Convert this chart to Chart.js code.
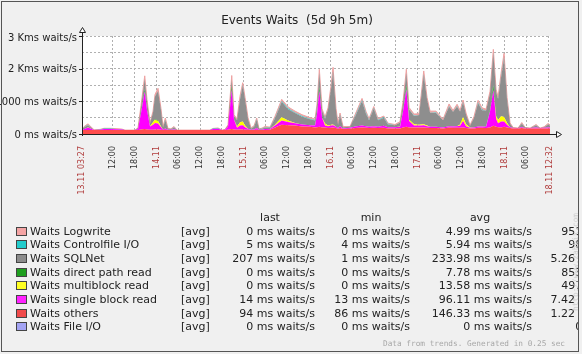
<!DOCTYPE html>
<html>
<head>
<meta charset="utf-8">
<script src="https://cdn.jsdelivr.net/npm/chart.js@4.4.1/dist/chart.umd.min.js"></script>
<style>
  body { margin: 0; background: #f0f0f0; }
  #wrap { position: relative; width: 582px; height: 354px; overflow: hidden; font-family: 'DejaVu Sans', sans-serif; color: #222; }
  #c { position: absolute; left: 0; top: 0; }
  #title { position: absolute; left: 0; width: 594px; top: 13px; font-size: 12px; line-height: 14px; text-align: center; white-space: pre; }
  #legend { position: absolute; left: 0; top: 0; width: 578px; height: 354px; overflow: hidden; font-size: 11px; }
  #legend div { position: absolute; line-height: 13px; white-space: pre; }
  #legend .sw { width: 9px; height: 7px; border: 1px solid #444; }
  #footer { position: absolute; left: 383px; top: 339px; font-family: 'DejaVu Sans Mono', monospace; font-size: 7.75px; line-height: 10px; color: #a8a8a8; white-space: pre; }
  #url { position: absolute; left: 571px; top: 311px; transform-origin: 0 0; transform: rotate(-90deg); font-family: 'DejaVu Sans Mono', monospace; font-size: 7.75px; line-height: 9px; color: #cfcfcf; white-space: pre; }
  #frame { position: absolute; left: 1px; top: 1px; width: 578px; height: 351px; border: 1px solid #555; box-sizing: border-box; pointer-events: none; }
</style>
</head>
<body>
<div id="wrap">
  <canvas id="c" width="582" height="354"></canvas>
  <div id="title">Events Waits  (5d 9h 5m)</div>
  <div id="legend"></div>
  <div id="footer">Data from trends. Generated in 0.25 sec</div>
  <div id="url">http://www.zabbix.com</div>
  <div id="frame"></div>
</div>
<script>
// hours since 13.11 03:27 (period 5d 9h 5m)
const hours = [0, 0.83, 1.66, 2.48, 3.31, 4.97, 6.07, 7.72, 9.38, 11.03,
  11.86, 14.62, 15.45, 16.28, 17.30, 17.93, 18.76, 19.59, 20.14, 20.97,
  21.79, 22.34, 22.98, 23.72, 24.55, 25.38, 26.21, 32.0, 35.31, 36.14,
  37.52, 38.62, 39.45, 40.28, 41.30, 41.93, 42.76, 43.59, 44.33, 44.97,
  45.79, 46.62, 47.45, 48.19, 48.83, 49.66, 50.48, 51.86, 53.24, 55.09,
  56.83, 58.76, 60.69, 62.90, 64.28, 64.83, 65.46, 66.21, 67.03, 67.86,
  68.69, 69.24, 70.07, 70.62, 71.17, 72.0, 73.93, 75.31, 77.24, 78.34,
  79.17, 80.47, 81.66, 83.23, 84.41, 86.34, 87.72, 88.55, 89.46, 90.21,
  91.59, 92.97, 93.52, 94.26, 95.17, 96.0, 97.66, 99.59, 101.24, 102.34,
  103.45, 104.28, 105.10, 105.93, 107.03, 108.14, 109.24, 110.34, 111.45, 112.55,
  113.46, 114.21, 114.76, 115.59, 116.41, 117.24, 118.07, 118.90, 120.28, 121.30,
  122.21, 123.59, 125.24, 126.34, 127.45, 128.55, 129.08];

// ms waits/s, stacked bottom to top
const others = [120, 120, 120, 120, 120, 120, 120, 120, 120, 120,
  120, 120, 120, 140, 150, 140, 130, 130, 140, 140,
  130, 120, 130, 120, 120, 120, 120, 120, 120, 120,
  120, 120, 120, 130, 150, 140, 130, 140, 140, 130,
  130, 120, 120, 130, 120, 120, 120, 130, 200, 280,
  270, 260, 230, 220, 200, 210, 220, 200, 200, 180,
  190, 200, 180, 150, 180, 150, 160, 180, 200, 190,
  180, 190, 180, 190, 170, 170, 170, 200, 220, 200,
  200, 200, 200, 200, 190, 180, 180, 170, 200, 190,
  190, 190, 200, 180, 170, 170, 190, 190, 180, 200,
  250, 220, 210, 200, 220, 200, 180, 170, 170, 180,
  170, 170, 170, 170, 170, 170, 170];
const singleBlock = [10, 40, 80, 40, 5, 10, 30, 30, 25, 20,
  0, 0, 30, 500, 1150, 600, 100, 150, 200, 180,
  80, 20, 40, 10, 10, 20, 0, 0, 0, 30,
  40, 0, 10, 100, 1200, 300, 60, 120, 130, 80,
  30, 10, 20, 50, 10, 10, 30, 20, 60, 130,
  100, 70, 60, 50, 60, 400, 1100, 300, 60, 60,
  70, 70, 40, 30, 60, 20, 30, 50, 60, 50,
  40, 50, 40, 60, 40, 40, 50, 500, 1150, 200,
  60, 60, 60, 70, 50, 40, 40, 30, 40, 40,
  50, 60, 200, 60, 20, 30, 40, 40, 40, 500,
  1100, 250, 120, 180, 160, 80, 30, 10, 10, 30,
  10, 10, 30, 10, 20, 30, 30];
const multiblock = [0, 0, 10, 0, 0, 0, 0, 0, 0, 0,
  0, 0, 0, 0, 0, 0, 10, 80, 100, 80,
  20, 0, 0, 0, 0, 0, 0, 0, 0, 0,
  0, 0, 0, 0, 0, 0, 40, 100, 110, 50,
  0, 0, 0, 0, 0, 0, 0, 0, 20, 100,
  40, 10, 0, 0, 0, 0, 0, 0, 60, 20,
  20, 20, 0, 0, 0, 0, 0, 0, 0, 0,
  0, 0, 0, 0, 0, 0, 10, 0, 0, 40,
  40, 20, 30, 30, 20, 0, 0, 0, 0, 0,
  0, 40, 120, 60, 10, 0, 0, 0, 0, 0,
  0, 80, 100, 160, 140, 60, 0, 0, 0, 0,
  0, 0, 0, 0, 0, 0, 0];
const directPath = [0, 0, 0, 0, 0, 0, 0, 0, 0, 0,
  0, 0, 0, 30, 80, 50, 0, 0, 10, 20,
  0, 0, 0, 0, 0, 0, 0, 0, 0, 0,
  0, 0, 0, 10, 120, 30, 0, 0, 0, 0,
  0, 0, 0, 0, 0, 0, 0, 0, 0, 0,
  0, 0, 0, 0, 0, 40, 120, 30, 0, 0,
  0, 0, 0, 0, 0, 0, 0, 0, 0, 0,
  0, 0, 0, 0, 0, 0, 0, 40, 120, 20,
  0, 0, 0, 0, 0, 0, 0, 0, 0, 0,
  0, 0, 0, 0, 0, 0, 0, 0, 0, 50,
  140, 40, 0, 0, 0, 0, 0, 0, 0, 0,
  0, 0, 0, 0, 0, 0, 0];
const sqlNet = [20, 60, 60, 40, 0, 0, 0, 0, 0, 0,
  0, 0, 30, 150, 300, 200, 80, 300, 700, 900,
  500, 60, 250, 30, 20, 60, 0, 0, 0, 0,
  0, 0, 10, 20, 200, 80, 200, 700, 1100, 800,
  300, 40, 80, 250, 30, 30, 50, 40, 200, 480,
  350, 300, 240, 180, 150, 200, 400, 200, 150, 500,
  1100, 1600, 500, 100, 330, 40, 30, 300, 750, 380,
  200, 540, 200, 250, 80, 60, 120, 200, 360, 300,
  250, 300, 800, 1500, 800, 440, 420, 220, 600, 450,
  600, 400, 450, 300, 50, 300, 720, 500, 500, 500,
  960, 700, 650, 1200, 1800, 700, 100, 10, 0, 100,
  20, 0, 60, 0, 20, 80, 60];
const controlfile = [0, 10, 10, 0, 0, 10, 15, 15, 10, 5,
  0, 0, 0, 0, 0, 0, 0, 0, 0, 0,
  0, 0, 20, 0, 0, 10, 0, 0, 0, 20,
  15, 0, 0, 0, 0, 0, 0, 20, 20, 0,
  0, 0, 10, 20, 0, 10, 10, 20, 20, 20,
  30, 20, 20, 20, 20, 20, 30, 0, 20, 0,
  20, 30, 0, 0, 20, 0, 0, 20, 30, 30,
  20, 20, 20, 20, 20, 0, 0, 0, 20, 0,
  20, 0, 20, 30, 0, 0, 20, 0, 20, 0,
  20, 0, 20, 0, 0, 0, 20, 20, 0, 0,
  30, 0, 0, 30, 30, 20, 0, 0, 0, 10,
  0, 0, 10, 0, 0, 10, 0];
const logwrite = [10, 20, 30, 20, 5, 0, 10, 10, 10, 5,
  0, 0, 10, 50, 100, 60, 20, 40, 60, 80,
  50, 20, 50, 10, 10, 20, 0, 0, 0, 0,
  10, 0, 0, 20, 120, 40, 30, 80, 70, 60,
  40, 20, 20, 40, 0, 10, 20, 0, 40, 50,
  40, 40, 40, 30, 30, 50, 110, 40, 30, 40,
  80, 120, 60, 30, 50, 20, 10, 40, 50, 40,
  30, 40, 30, 30, 20, 20, 30, 50, 110, 50,
  40, 40, 60, 100, 60, 40, 40, 30, 60, 40,
  50, 40, 50, 40, 20, 40, 60, 50, 40, 60,
  110, 80, 60, 90, 120, 60, 30, 10, 0, 30,
  0, 0, 20, 0, 10, 30, 20];

const totalHours = 129.083;
const gridHours = [8.55, 14.55, 20.55, 26.55, 32.55, 38.55, 44.55, 50.55, 56.55, 62.55, 68.55,
  74.55, 80.55, 86.55, 92.55, 98.55, 104.55, 110.55, 116.55, 122.55, 128.55];
const xLabelHours = [0, 8.55, 14.55, 20.55, 26.55, 32.55, 38.55, 44.55, 50.55, 56.55, 62.55, 68.55,
  74.55, 80.55, 86.55, 92.55, 98.55, 104.55, 110.55, 116.55, 122.55, 129.083];
const xLabels = ['13.11 03:27', '12:00', '18:00', '14.11', '06:00', '12:00', '18:00', '15.11', '06:00',
  '12:00', '18:00', '16.11', '06:00', '12:00', '18:00', '17.11', '06:00', '12:00', '18:00', '18.11',
  '06:00', '18.11 12:32'];
const yLabelValues = [0, 1000, 2000, 3000];
const yLabels = ['0 ms waits/s', '1000 ms waits/s', '2 Kms waits/s', '3 Kms waits/s'];

const legendNames = ['Waits Logwrite', 'Waits Controlfile I/O', 'Waits SQLNet', 'Waits direct path read',
  'Waits multiblock read', 'Waits single block read', 'Waits others', 'Waits File I/O'];
const legendColors = ['#f4a4a4', '#22cccc', '#8c8c8c', '#1f9f1f', '#ffff22', '#ff22ff', '#f04a4a', '#a4a4f4'];
const lastVals = ['0 ms waits/s', '5 ms waits/s', '207 ms waits/s', '0 ms waits/s', '0 ms waits/s',
  '14 ms waits/s', '94 ms waits/s', '0 ms waits/s'];
const minVals = ['0 ms waits/s', '4 ms waits/s', '1 ms waits/s', '0 ms waits/s', '0 ms waits/s',
  '13 ms waits/s', '86 ms waits/s', '0 ms waits/s'];
const avgVals = ['4.99 ms waits/s', '5.94 ms waits/s', '233.98 ms waits/s', '7.78 ms waits/s',
  '13.58 ms waits/s', '96.11 ms waits/s', '146.33 ms waits/s', '0 ms waits/s'];
const maxVals = ['951 ms waits/s', '98 ms waits/s', '5.26 Kms waits/s', '853 ms waits/s',
  '497 ms waits/s', '7.42 Kms waits/s', '1.22 Kms waits/s', '0 ms waits/s'];

// legend table
const legendEl = document.getElementById('legend');
function addText(txt, x, yc, align) {
  const d = document.createElement('div');
  d.textContent = txt;
  d.style.top = (yc - 6.5) + 'px';
  if (align === 'right') d.style.right = (578 - x) + 'px';
  else if (align === 'center') { d.style.left = (x - 50) + 'px'; d.style.width = '100px'; d.style.textAlign = 'center'; }
  else d.style.left = x + 'px';
  legendEl.appendChild(d);
}
addText('last', 270, 217, 'center');
addText('min', 371, 217, 'center');
addText('avg', 480, 217, 'center');
legendNames.forEach((name, i) => {
  const yc = 231 + i * 13.67;
  const sw = document.createElement('div');
  sw.className = 'sw';
  sw.style.left = '16px';
  sw.style.top = (yc - 4.5) + 'px';
  sw.style.background = legendColors[i];
  legendEl.appendChild(sw);
  addText(name, 30, yc);
  addText('[avg]', 181, yc);
  addText(lastVals[i], 315, yc, 'right');
  addText(minVals[i], 410, yc, 'right');
  addText(avgVals[i], 532, yc, 'right');
  addText(maxVals[i], 644, yc, 'right');
});

const pts = (arr) => arr.map((v, i) => ({ x: hours[i], y: v }));
const layer = (label, arr, color, extra) => Object.assign({
  label, data: pts(arr), backgroundColor: color, borderColor: color, borderWidth: 0,
  fill: '-1', pointRadius: 0, tension: 0
}, extra || {});

const zbxPlugin = {
  id: 'zbx',
  beforeDraw(chart) {
    const { ctx, chartArea: a } = chart;
    ctx.save();
    ctx.fillStyle = '#ffffff';
    ctx.fillRect(a.left, a.top, a.right - a.left, a.bottom - a.top);
    ctx.restore();
  },
  afterDraw(chart) {
    const { ctx, chartArea: a, scales: { x, y } } = chart;
    ctx.save();
    // y labels
    ctx.font = '10px "DejaVu Sans"';
    ctx.fillStyle = '#222';
    ctx.textAlign = 'right';
    ctx.textBaseline = 'middle';
    yLabelValues.forEach((v, i) => {
      const py = y.getPixelForValue(v);
      ctx.fillText(yLabels[i], a.left - 5, py + (v === 3000 ? 2 : 1));
      ctx.fillRect(a.left - 3, Math.round(py), 3, 1);
    });
    // x labels
    ctx.font = '8px "DejaVu Sans"';
    xLabelHours.forEach((h, i) => {
      const px = x.getPixelForValue(h);
      ctx.save();
      ctx.translate(px, a.bottom + 12);
      ctx.rotate(-Math.PI / 2);
      ctx.textAlign = 'right';
      ctx.textBaseline = 'middle';
      ctx.fillStyle = xLabels[i].includes('.') ? '#b03c3c' : '#333';
      ctx.fillText(xLabels[i], 0, 0);
      ctx.restore();
    });
    // axes with arrows
    ctx.strokeStyle = '#222';
    ctx.lineWidth = 1;
    ctx.beginPath();
    ctx.moveTo(a.left + 0.5, a.bottom + 2);
    ctx.lineTo(a.left + 0.5, a.top - 4);
    ctx.moveTo(a.left - 2, a.bottom + 0.5);
    ctx.lineTo(a.right + 6, a.bottom + 0.5);
    ctx.stroke();
    ctx.fillStyle = '#ffffff';
    ctx.beginPath();
    ctx.moveTo(a.left + 0.5, a.top - 8.5);
    ctx.lineTo(a.left - 2.5, a.top - 3.5);
    ctx.lineTo(a.left + 3.5, a.top - 3.5);
    ctx.closePath();
    ctx.fill(); ctx.stroke();
    ctx.beginPath();
    ctx.moveTo(a.right + 11.5, a.bottom + 0.5);
    ctx.lineTo(a.right + 6.5, a.bottom - 2.5);
    ctx.lineTo(a.right + 6.5, a.bottom + 3.5);
    ctx.closePath();
    ctx.fill(); ctx.stroke();
    ctx.restore();
  }
};

new Chart(document.getElementById('c'), {
  type: 'line',
  data: {
    datasets: [
      layer('Waits others', others, '#ff4c4c', { fill: 'origin' }),
      layer('Waits single block read', singleBlock, '#ff00ff'),
      layer('Waits multiblock read', multiblock, '#ffff00'),
      layer('Waits direct path read', directPath, '#1f9f1f'),
      layer('Waits SQLNet', sqlNet, '#8e8e8e'),
      layer('Waits Controlfile I/O', controlfile, '#22c8c8'),
      layer('Waits Logwrite', logwrite, '#eea2a2', { borderWidth: 1 })
    ]
  },
  options: {
    responsive: false,
    animation: false,
    devicePixelRatio: 1,
    layout: { padding: { left: 82, top: 36, right: 32, bottom: 220 } },
    plugins: { legend: { display: false }, tooltip: { enabled: false } },
    scales: {
      x: {
        type: 'linear', min: 0, max: totalHours,
        afterBuildTicks: (s) => { s.ticks = gridHours.map((v) => ({ value: v })); },
        ticks: { display: false },
        grid: { color: '#b0b0b0', drawTicks: false },
        border: { display: false, dash: [2, 2] }
      },
      y: {
        stacked: true, min: 0, max: 3000,
        ticks: { display: false, stepSize: 500 },
        grid: { color: '#b0b0b0', drawTicks: false },
        border: { display: false, dash: [2, 2] }
      }
    }
  },
  plugins: [zbxPlugin]
});
</script>
</body>
</html>
